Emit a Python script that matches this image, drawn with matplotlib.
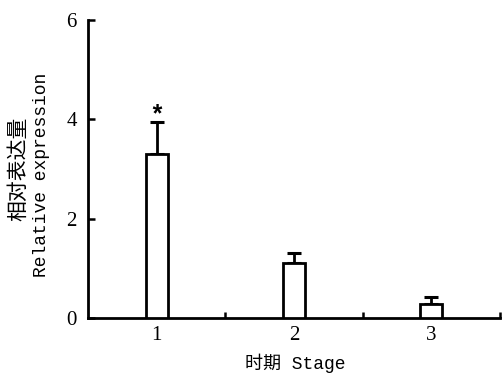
import matplotlib
matplotlib.use("Agg")
import matplotlib.pyplot as plt
import numpy as np

stages = ["1", "2", "3"]
values = [3.30, 1.11, 0.28]
errors = [0.65, 0.19, 0.14]
yticks = [0, 2, 4, 6]
marks = ["*", "", ""]

fig = plt.figure(figsize=(5.04, 3.75), dpi=100)
ax = fig.add_axes([0.1746, 0.152, 0.8174, 0.7947])

x = np.arange(1, len(stages) + 1)
ax.bar(x, values, width=0.16, color="white", edgecolor="black", linewidth=2.0, zorder=3)
ax.errorbar(x, values, yerr=[np.zeros(len(errors)), errors], fmt="none",
            ecolor="black", elinewidth=2.0, capsize=5, capthick=2.2, zorder=2)
for xi, v, e, m in zip(x, values, errors, marks):
    if m:
        ax.text(xi, v + e - 0.12, m, ha="center", va="bottom",
                fontsize=18, family="Liberation Mono", fontweight="bold")

ax.set_xlim(0.5, 3.5)
ax.set_ylim(0, 6)
ax.set_yticks(yticks)
ax.set_xticks(x)
ax.set_xticklabels(stages)
ax.set_xticks([1.5, 2.5, 3.5], minor=True)
ax.tick_params(axis="x", which="major", length=0, pad=6, labelsize=15)
ax.tick_params(axis="x", which="minor", direction="in", length=4, width=1.8)
ax.tick_params(axis="y", direction="in", length=5, width=1.8, pad=8, labelsize=15)
for lab in ax.get_xticklabels() + ax.get_yticklabels():
    lab.set_family("Liberation Serif")

for s in ["top", "right"]:
    ax.spines[s].set_visible(False)
for s in ["left", "bottom"]:
    ax.spines[s].set_linewidth(2.0)

fig.text(18 / 504, 1 - 169 / 375, "相对表达量", rotation=90, ha="center", va="center",
         fontsize=15, family="Noto Sans CJK SC")
fig.text(42 / 504, 1 - 175 / 375, "Relative expression", rotation=90, ha="center",
         va="center", fontsize=13, family="Liberation Mono")
fig.text(295 / 504, 1 - 363 / 375, "时期 Stage", ha="center", va="center",
         fontsize=13, family=["Liberation Mono", "Noto Sans CJK SC"])

fig.savefig("out.png", dpi=100)
